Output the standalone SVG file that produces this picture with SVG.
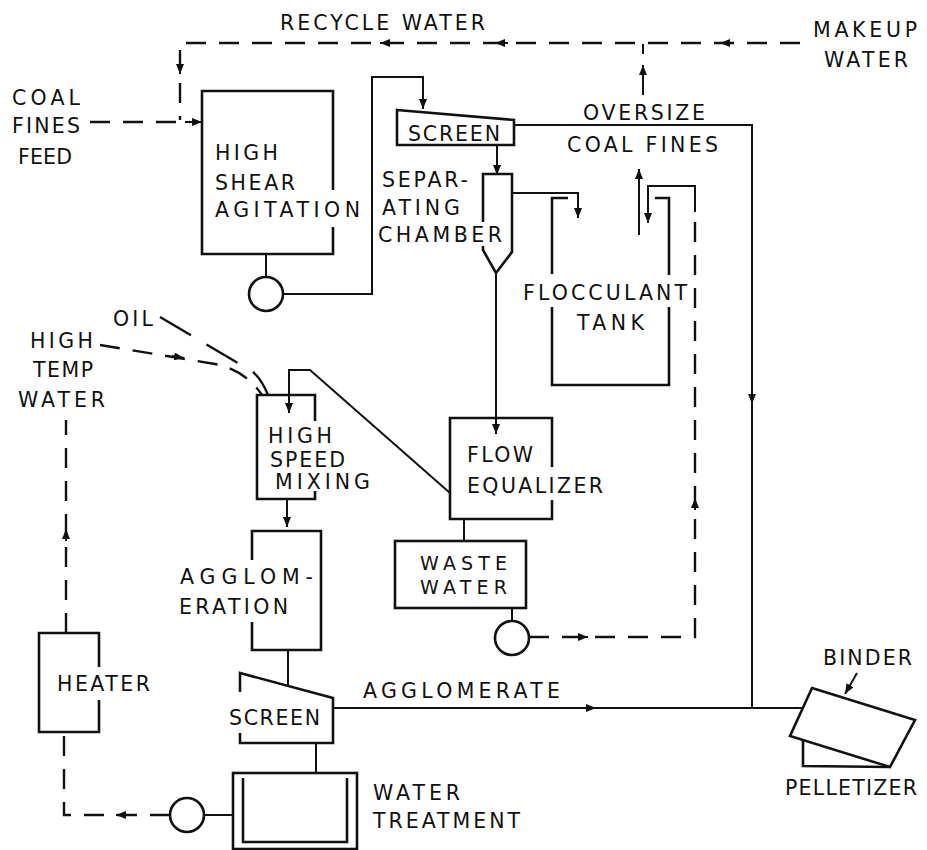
<svg xmlns="http://www.w3.org/2000/svg" width="927" height="850" viewBox="0 0 927 850">
<style>
text{font-family:"DejaVu Sans","Liberation Sans",Arial,sans-serif;font-size:20.5px;fill:#111;}
.sm{font-size:19px;}
.b{fill:none;stroke:#111;stroke-width:2.6;stroke-linejoin:miter;}
.c{fill:none;stroke:#111;stroke-width:2;}
.d{fill:none;stroke:#111;stroke-width:2.4;stroke-dasharray:20 13;}
.o{fill:none;stroke:#111;stroke-width:2.4;stroke-dasharray:36 18;}
.a{fill:none;stroke:#111;stroke-width:2;marker-end:url(#ah);}
.p{fill:#fff;stroke:#111;stroke-width:2.6;}
</style>
<defs>
<marker id="ah" viewBox="0 0 10 8" refX="10" refY="4" markerWidth="10" markerHeight="8" markerUnits="userSpaceOnUse" orient="auto"><path d="M0,0 L10,4 L0,8 Z" fill="#111"/></marker>
</defs>
<rect width="927" height="850" fill="#fff"/>

<g id="connectors">
<!-- recycle water -->
<path class="d" d="M800,43 L180,43 L180,120"/>
<path class="a" d="M393,43 L380,43"/>
<path class="a" d="M508,43 L495,43"/>
<path class="a" d="M733,43 L720,43"/>
<path class="a" d="M180,62 L180,74"/>
<!-- coal fines feed -->
<path class="d" d="M90,122 L190,122"/>
<path class="a" d="M185,122 L202,122"/>
<!-- oversize up -->
<path class="a" d="M643,95 L643,65"/>
<path class="c" d="M643,44 L643,54"/>
<!-- high shear pump -->
<path class="c" d="M266,254 L266,277"/>
<circle class="p" cx="266" cy="294" r="17"/>
<path class="a" d="M283,294 L372,294 L372,77 L423,77 L423,109"/>
<!-- screen oversize -->
<path class="c" d="M514,125 L752,125 L752,708"/>
<path class="a" d="M752,392 L752,404"/>
<!-- screen to chamber -->
<path class="a" d="M497,145 L497,175"/>
<!-- chamber to flocculant -->
<path class="a" d="M512,193 L578,193 L578,218"/>
<!-- chamber to flow eq -->
<path class="a" d="M496,272 L496,434"/>
<!-- flocculant up -->
<path class="a" d="M639,235 L639,169"/>
<!-- return -->
<path class="a" d="M695,212 L695,186 L648,186 L648,223"/>
<path class="d" d="M529,637 L695,637 L695,212"/>
<path class="a" d="M576,637 L588,637"/>
<path class="a" d="M695,510 L695,498"/>
<!-- waste water pump -->
<path class="c" d="M512,608 L512,621"/>
<circle class="p" cx="512" cy="638" r="17"/>
<!-- flow eq to waste water -->
<path class="c" d="M464,519 L464,541"/>
<!-- flow eq to high speed mixing -->
<path class="a" d="M450,493 L310,370 L289,370 L289,413"/>
<!-- hsm to agglomeration -->
<path class="a" d="M287,499 L287,527"/>
<!-- agglomeration to screen -->
<path class="c" d="M288,650 L288,685"/>
<!-- screen to water treatment -->
<path class="c" d="M316,743 L316,773"/>
<!-- agglomerate -->
<path class="c" d="M333,708 L803,708"/>
<path class="a" d="M584,708 L596,708"/>
<!-- water treatment pump -->
<path class="c" d="M233,815 L204,815"/>
<circle class="p" cx="187" cy="815" r="17"/>
<path class="d" d="M170,815 L64,815 L64,732"/>
<path class="a" d="M128,815 L116,815"/>
<!-- heater to hsm -->
<path class="d" d="M66,633 L66,420"/>
<path class="a" d="M66,541 L66,529"/>
<!-- high temp water -->
<path class="d" d="M100,345 L215,364 Q245,370 262,395"/>
<path class="a" d="M172,356 L184,358"/>
<!-- oil -->
<path class="o" d="M160,317 L253,372 Q262,380 268,395"/>
<!-- binder -->
<path class="a" d="M857,673 L845,694"/>
</g>

<g id="high-shear">
<path class="b" d="M333,190 L333,91 L202,91 L202,254 L333,254 L333,227"/>
<text x="215" y="160" textLength="63">HIGH</text>
<text x="215" y="190" textLength="80">SHEAR</text>
<text x="215" y="217" textLength="145">AGITATION</text>
</g>
<g id="screen-top">
<path class="b" d="M397,110 L514,120 L514,145 L397,145 Z"/>
<text x="408" y="141" textLength="92">SCREEN</text>
</g>
<g id="separating-chamber">
<path class="b" d="M483,222 L483,174 L512,174 L512,252 L496,273 L483,250 L483,246"/>
<text x="382" y="187" textLength="86">SEPAR-</text>
<text x="382" y="215" textLength="78">ATING</text>
<text x="378" y="242" textLength="124">CHAMBER</text>
</g>
<g id="flocculant-tank">
<path class="b" d="M568,198 L552,198 L552,274 M552,307 L552,385 L669,385 L669,307 M669,275 L669,198 L655,198"/>
<text x="523" y="300" textLength="164">FLOCCULANT</text>
<text x="577" y="330" textLength="67">TANK</text>
</g>
<g id="flow-equalizer">
<path class="b" d="M552,467 L552,418 L450,418 L450,519 L552,519 L552,500"/>
<text x="467" y="462" textLength="66">FLOW</text>
<text x="467" y="493" textLength="136">EQUALIZER</text>
</g>
<g id="waste-water">
<rect class="b" x="395" y="541" width="131" height="67"/>
<text class="sm" x="420" y="570" textLength="87">WASTE</text>
<text class="sm" x="420" y="594" textLength="87">WATER</text>
</g>
<g id="high-speed-mixing">
<path class="b" d="M315,421 L315,395 L257,395 L257,499 L315,499 L315,491"/>
<text x="268" y="443" textLength="64">HIGH</text>
<text x="270" y="467" textLength="75">SPEED</text>
<text x="275" y="489" textLength="95">MIXING</text>
</g>
<g id="agglomeration">
<path class="b" d="M252,560 L252,531 L321,531 L321,650 L252,650 L252,622"/>
<text x="180" y="584" textLength="133">AGGLOM-</text>
<text x="179" y="614" textLength="109">ERATION</text>
</g>
<g id="screen-bottom">
<path class="b" d="M240,692 L240,673 L333,698 L333,743 L240,743 L240,733"/>
<text x="229" y="725" textLength="91">SCREEN</text>
</g>
<g id="water-treatment">
<rect class="b" x="233" y="773" width="124" height="76"/>
<path class="b" d="M243,778 L243,842 L347,842 L347,778"/>
<text x="373" y="800" textLength="87">WATER</text>
<text x="373" y="828" textLength="147">TREATMENT</text>
</g>
<g id="heater">
<path class="b" d="M99,667 L99,633 L39,633 L39,732 L99,732 L99,700"/>
<text x="57" y="691" textLength="93">HEATER</text>
</g>
<g id="pelletizer">
<path class="b" d="M803,740 L803,766 L890,767"/>
<path class="b" d="M812,688 L915,720 L890,767 L790,736 Z"/>
<text x="823" y="665" textLength="89">BINDER</text>
<text x="785" y="795" textLength="132">PELLETIZER</text>
</g>
<g id="labels">
<text x="280" y="30" textLength="205">RECYCLE WATER</text>
<text x="813" y="37" textLength="104">MAKEUP</text>
<text x="824" y="67" textLength="84">WATER</text>
<text x="12" y="105" textLength="68">COAL</text>
<text x="12" y="133" textLength="68">FINES</text>
<text x="18" y="164" textLength="54">FEED</text>
<text x="583" y="120" textLength="122">OVERSIZE</text>
<text x="567" y="152" textLength="151">COAL FINES</text>
<text x="113" y="326" textLength="40">OIL</text>
<text x="30" y="348" textLength="63">HIGH</text>
<text x="33" y="377" textLength="60">TEMP</text>
<text x="18" y="407" textLength="87">WATER</text>
<text x="363" y="698" textLength="197">AGGLOMERATE</text>
</g>
</svg>
